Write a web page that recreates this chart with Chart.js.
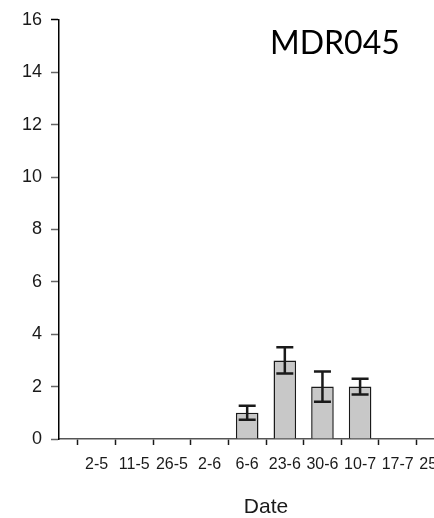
<!DOCTYPE html>
<html>
<head>
<meta charset="utf-8">
<script src="https://cdn.jsdelivr.net/npm/chart.js@4.4.1/dist/chart.umd.min.js"></script>
<style>
  html, body { margin: 0; padding: 0; background: #fff; overflow: hidden; }
  #wrap { position: relative; width: 473px; height: 518px; }
  #title { position: absolute; left: 270px; top: 26px; font-family: Lato, "Open Sans", sans-serif; font-size: 32px; color: #000; line-height: 1; }
</style>
</head>
<body>
<div id="wrap">
  <canvas id="c" width="473" height="518"></canvas>
  <div id="title">MDR045</div>
</div>
<script>
// Sampling dates (day-month)
const dates = ['2-5', '11-5', '26-5', '2-6', '6-6', '23-6', '30-6', '10-7', '17-7', '25-7'];
// Mean counts per date
const counts = [0, 0, 0, 0, 1, 3, 2, 2, 0, 0];
// Standard error per date
const errors = [0, 0, 0, 0, 0.27, 0.5, 0.58, 0.3, 0, 0];
// Y axis tick values
const yTicks = [0, 2, 4, 6, 8, 10, 12, 14, 16];

// empty slot at each end so the axis runs past the first and last date
const labels = [''].concat(dates, ['']);
const values = [null].concat(counts, [null]);
const errs = [null].concat(errors, [null]);

const errorBars = {
  id: 'errorBars',
  afterDatasetsDraw(chart) {
    const ctx = chart.ctx;
    const meta = chart.getDatasetMeta(0);
    const y = chart.scales.y;
    ctx.save();
    ctx.strokeStyle = '#1a1a1a';
    ctx.lineWidth = 2.5;
    meta.data.forEach((bar, i) => {
      const v = values[i], e = errs[i];
      if (v == null || !e) return;
      const x = bar.x;
      const yt = y.getPixelForValue(v + e);
      const yb = y.getPixelForValue(v - e);
      const half = 8.5;
      ctx.beginPath();
      ctx.moveTo(x, yt); ctx.lineTo(x, yb);
      ctx.moveTo(x - half, yt); ctx.lineTo(x + half, yt);
      ctx.moveTo(x - half, yb); ctx.lineTo(x + half, yb);
      ctx.stroke();
    });
    ctx.restore();
  }
};

new Chart(document.getElementById('c'), {
  type: 'bar',
  data: {
    labels: labels,
    datasets: [{
      data: values,
      backgroundColor: '#c8c8c8',
      borderColor: '#1a1a1a',
      borderWidth: 1.5,
      borderSkipped: 'bottom',
      categoryPercentage: 1,
      barPercentage: 0.6
    }]
  },
  options: {
    responsive: false,
    animation: false,
    events: [],
    layout: { padding: { top: 12, left: 0, right: 0, bottom: 0 } },
    plugins: { legend: { display: false }, tooltip: { enabled: false } },
    scales: {
      x: {
        offset: false,
        afterFit: (s) => { s.height = 79; s.paddingLeft = 0; s.paddingRight = 0; },
        grid: {
          drawOnChartArea: false,
          tickLength: 6,
          tickColor: (c) => c.index === 0 ? 'rgba(0,0,0,0)' : '#1a1a1a',
          tickWidth: 1.5
        },
        border: { display: true, color: '#555', width: 1.5 },
        ticks: {
          autoSkip: false,
          maxRotation: 0,
          padding: 10,
          color: '#1a1a1a',
          font: { family: 'Liberation Sans, Arial, sans-serif', size: 16 }
        },
        title: {
          display: true,
          text: 'Date',
          color: '#1a1a1a',
          font: { family: 'Liberation Sans, Arial, sans-serif', size: 21, lineHeight: 1 },
          padding: { top: 0, bottom: 0 }
        }
      },
      y: {
        min: 0,
        max: 16,
        afterBuildTicks: (s) => { s.ticks = yTicks.map(v => ({ value: v })); },
        afterFit: (s) => { s.width = 59; },
        grid: {
          drawOnChartArea: false,
          tickLength: 8,
          tickColor: (c) => c.tick && c.tick.value === 16 ? '#000' : '#666',
          tickWidth: 1.5
        },
        border: { display: true, color: '#000', width: 1.5 },
        ticks: {
          padding: 9,
          color: '#1a1a1a',
          font: { family: 'Liberation Sans, Arial, sans-serif', size: 18 }
        }
      }
    }
  },
  plugins: [errorBars]
});
</script>
</body>
</html>
